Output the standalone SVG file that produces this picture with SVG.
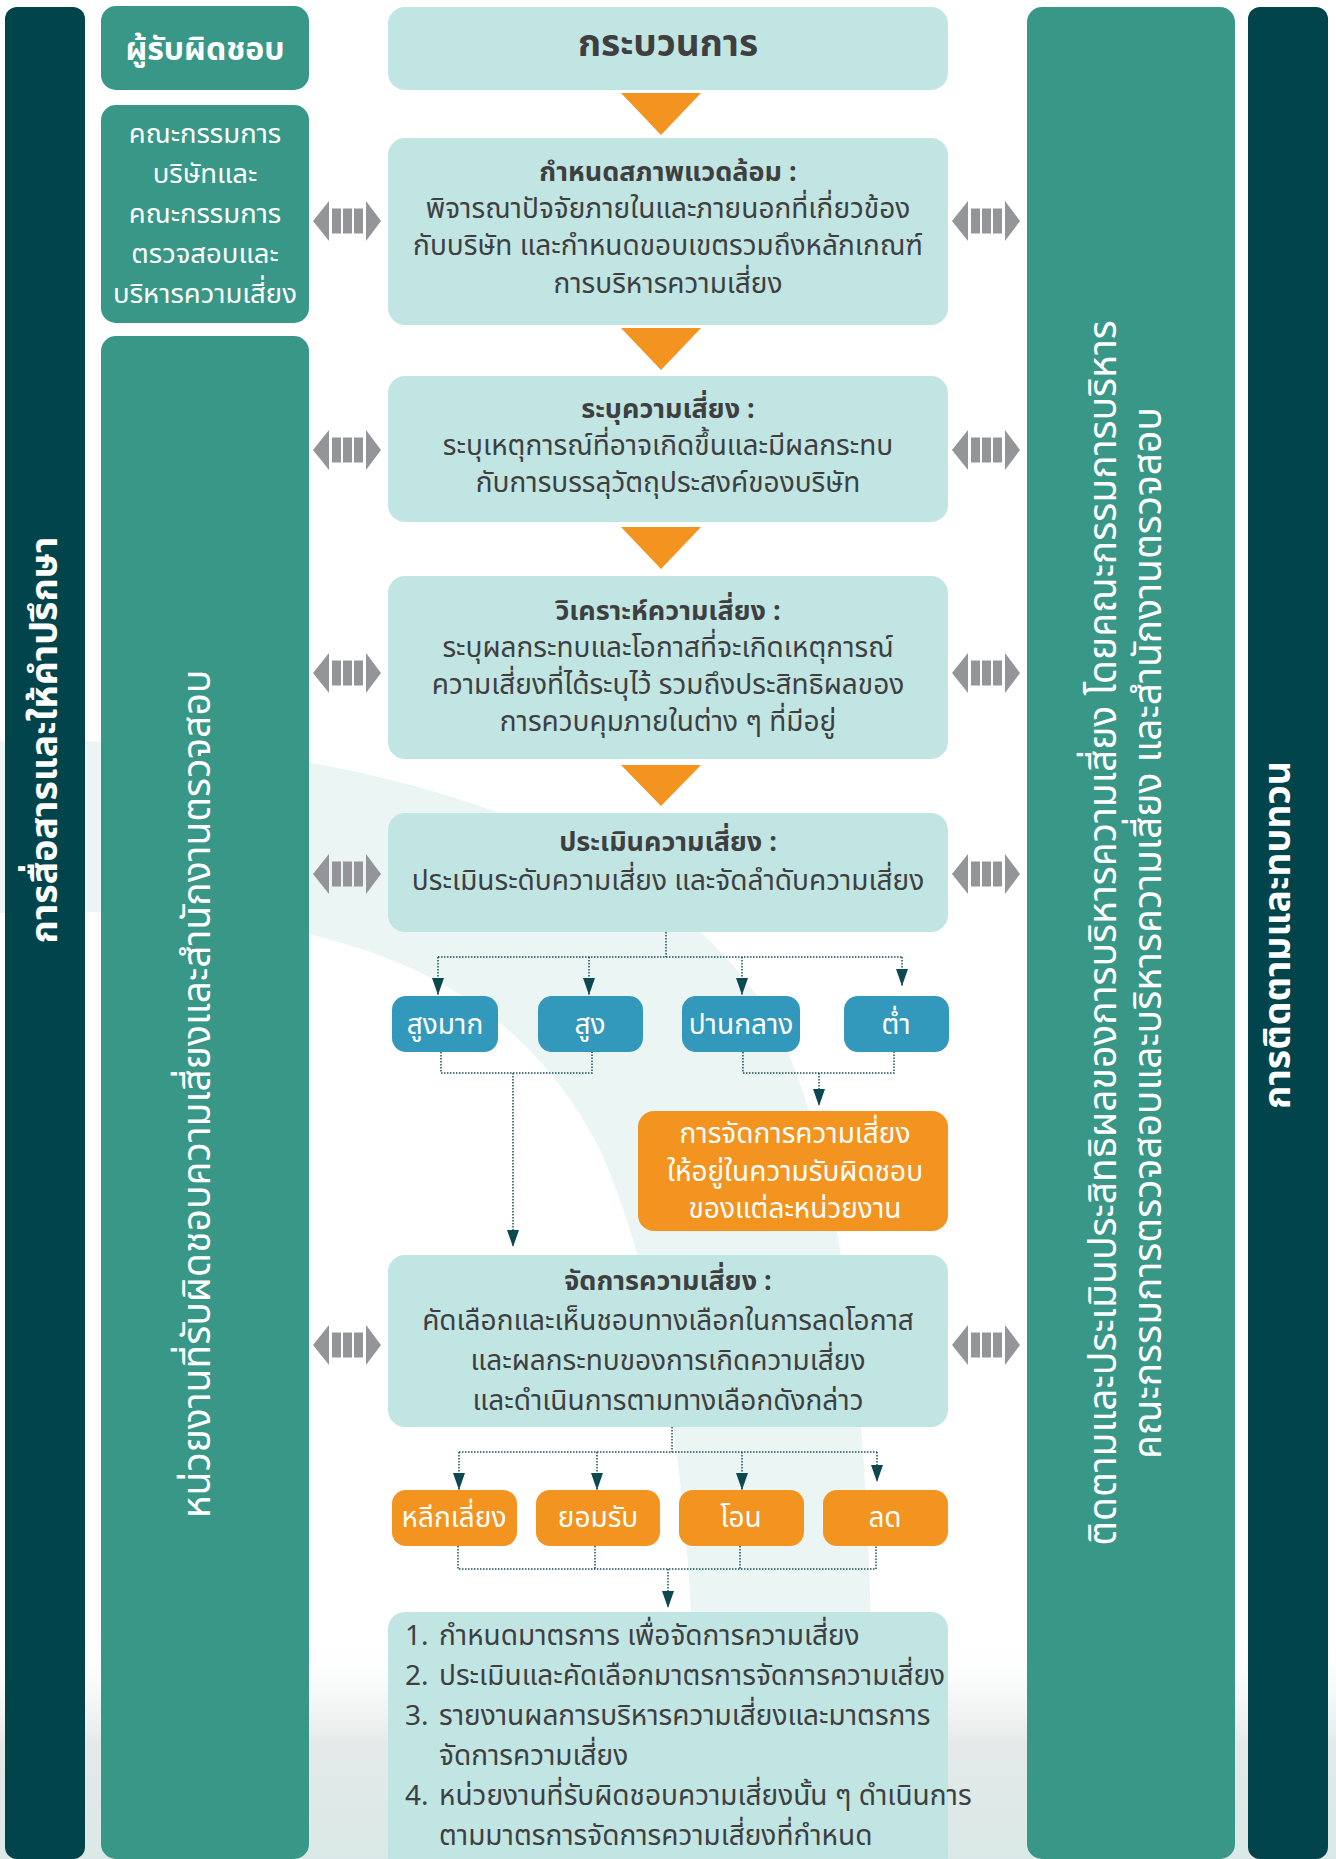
<svg xmlns="http://www.w3.org/2000/svg" width="1336" height="1859" viewBox="0 0 1336 1859">
<defs>
<style>
text{font-family:"Noto Sans Thai","Noto Sans Thai UI","Noto Sans","DejaVu Sans",sans-serif}
.dk{fill:#02444B}.gr{fill:#389787}.lt{fill:#C1E5E3}.or{fill:#F39320}.bl{fill:#3399BC}
.tw{fill:#fff}.td{fill:#3F3F40}
.b{font-weight:700}
.c{text-anchor:middle}
.f27{font-size:27px}.f28{font-size:28px}
.con{fill:none;stroke:#17505A;stroke-width:1.5;stroke-dasharray:1.5 1.5}
.tri{fill:#F39320}
.arw{fill:#939598}
</style>
<marker id="ah" viewBox="0 0 17 12" markerWidth="17" markerHeight="12" refX="17" refY="6" orient="auto" markerUnits="userSpaceOnUse"><path d="M0 0L17 6L0 12z" fill="#0B4850"/></marker>
<g id="sa"><path class="arw" d="M313 0L329 -20V20z"/><rect class="arw" x="332" y="-12.5" width="9" height="25"/><rect class="arw" x="343" y="-12.5" width="9" height="25"/><rect class="arw" x="354" y="-12.5" width="9" height="25"/><path class="arw" d="M366 -20L381 0L366 20z"/></g>
<linearGradient id="bg" x1="0" y1="0" x2="0" y2="1"><stop offset="0" stop-color="#fff" stop-opacity="0"/><stop offset="0.5" stop-color="#E4E9E8"/><stop offset="1" stop-color="#DAE9E7"/></linearGradient>
</defs>
<rect width="1336" height="1859" fill="#fff"/>
<path d="M0 741C300 735 620 800 760 1000C840 1120 870 1400 872 1700L694 1700C690 1450 650 1260 600 1150C490 930 250 905 0 913Z" fill="#EBF5F4"/>
<rect x="0" y="1630" width="1336" height="229" fill="url(#bg)"/>

<g id="col-comm"><rect class="dk" x="5" y="7" width="80" height="1852" rx="12"/><text class="tw b" font-size="37.5" text-anchor="middle" transform="translate(57 740) rotate(-90)">การสื่อสารและให้คำปรึกษา</text></g>
<g id="col-resp-head"><rect class="gr" x="101" y="6" width="208" height="84" rx="15"/><text class="tw b c" font-size="32" x="205" y="60">ผู้รับผิดชอบ</text></g>
<g id="col-board"><rect class="gr" x="101" y="105" width="208" height="218" rx="15"/>
<text class="tw c" font-size="27.5"><tspan x="205" y="143">คณะกรรมการ</tspan><tspan x="205" y="183">บริษัทและ</tspan><tspan x="205" y="223">คณะกรรมการ</tspan><tspan x="205" y="263">ตรวจสอบและ</tspan><tspan x="205" y="303">บริหารความเสี่ยง</tspan></text></g>
<g id="col-units"><rect class="gr" x="101" y="336" width="208" height="1523" rx="15"/><text class="tw" font-size="39" text-anchor="middle" transform="translate(210 1094) rotate(-90)">หน่วยงานที่รับผิดชอบความเสี่ยงและสำนักงานตรวจสอบ</text></g>
<g id="col-monitor"><rect class="gr" x="1027" y="7" width="208" height="1852" rx="15"/><text class="tw" font-size="39" text-anchor="middle" transform="translate(1116 933) rotate(-90)"><tspan x="0" y="0">ติดตามและประเมินประสิทธิผลของการบริหารความเสี่ยง โดยคณะกรรมการบริหาร</tspan><tspan x="0" y="45">คณะกรรมการตรวจสอบและบริหารความเสี่ยง และสำนักงานตรวจสอบ</tspan></text></g>
<g id="col-review"><rect class="dk" x="1248" y="7" width="80" height="1852" rx="12"/><text class="tw b" font-size="37.5" text-anchor="middle" transform="translate(1290 935) rotate(-90)">การติดตามและทบทวน</text></g>

<g id="process-head"><rect class="lt" x="388" y="7" width="560" height="83" rx="17"/><text class="td b c" font-size="37" x="668" y="56">กระบวนการ</text></g>
<g id="context"><rect class="lt" x="388" y="138" width="560" height="187" rx="17"/>
<text class="td c f28"><tspan class="b" font-size="27" x="668" y="181">กำหนดสภาพแวดล้อม :</tspan><tspan x="668" y="218">พิจารณาปัจจัยภายในและภายนอกที่เกี่ยวข้อง</tspan><tspan x="668" y="255">กับบริษัท และกำหนดขอบเขตรวมถึงหลักเกณฑ์</tspan><tspan x="668" y="293">การบริหารความเสี่ยง</tspan></text></g>
<g id="identify"><rect class="lt" x="388" y="376" width="560" height="146" rx="17"/>
<text class="td c f28"><tspan class="b" font-size="27" x="668" y="418">ระบุความเสี่ยง :</tspan><tspan x="668" y="455">ระบุเหตุการณ์ที่อาจเกิดขึ้นและมีผลกระทบ</tspan><tspan x="668" y="492">กับการบรรลุวัตถุประสงค์ของบริษัท</tspan></text></g>
<g id="analyze"><rect class="lt" x="388" y="576" width="560" height="183" rx="17"/>
<text class="td c f28"><tspan class="b" font-size="27" x="668" y="620">วิเคราะห์ความเสี่ยง :</tspan><tspan x="668" y="657">ระบุผลกระทบและโอกาสที่จะเกิดเหตุการณ์</tspan><tspan x="668" y="694">ความเสี่ยงที่ได้ระบุไว้ รวมถึงประสิทธิผลของ</tspan><tspan x="668" y="731">การควบคุมภายในต่าง ๆ ที่มีอยู่</tspan></text></g>
<g id="evaluate"><rect class="lt" x="388" y="813" width="560" height="119" rx="17"/>
<text class="td c f28"><tspan class="b" font-size="27" x="668" y="851">ประเมินความเสี่ยง :</tspan><tspan x="668" y="890">ประเมินระดับความเสี่ยง และจัดลำดับความเสี่ยง</tspan></text></g>
<g id="very-high"><rect class="bl" x="392" y="996" width="106" height="56" rx="14"/><text class="tw c f28" x="445" y="1034">สูงมาก</text></g>
<g id="high"><rect class="bl" x="538" y="996" width="105" height="56" rx="14"/><text class="tw c f28" x="590" y="1034">สูง</text></g>
<g id="medium"><rect class="bl" x="682" y="996" width="118" height="56" rx="14"/><text class="tw c f28" x="741" y="1034">ปานกลาง</text></g>
<g id="low"><rect class="bl" x="844" y="996" width="105" height="56" rx="14"/><text class="tw c f28" x="896" y="1034">ต่ำ</text></g>
<g id="unit-handle"><rect class="or" x="638" y="1111" width="310" height="120" rx="16"/>
<text class="tw c f28"><tspan x="795" y="1143">การจัดการความเสี่ยง</tspan><tspan x="795" y="1181">ให้อยู่ในความรับผิดชอบ</tspan><tspan x="795" y="1218">ของแต่ละหน่วยงาน</tspan></text></g>
<g id="treat"><rect class="lt" x="388" y="1255" width="560" height="172" rx="17"/>
<text class="td c f28"><tspan class="b" font-size="27" x="668" y="1290">จัดการความเสี่ยง :</tspan><tspan x="668" y="1330">คัดเลือกและเห็นชอบทางเลือกในการลดโอกาส</tspan><tspan x="668" y="1370">และผลกระทบของการเกิดความเสี่ยง</tspan><tspan x="668" y="1410">และดำเนินการตามทางเลือกดังกล่าว</tspan></text></g>
<g id="avoid"><rect class="or" x="392" y="1490" width="125" height="56" rx="14"/><text class="tw c f28" x="454" y="1527">หลีกเลี่ยง</text></g>
<g id="accept"><rect class="or" x="536" y="1490" width="124" height="56" rx="14"/><text class="tw c f28" x="598" y="1527">ยอมรับ</text></g>
<g id="transfer"><rect class="or" x="679" y="1490" width="125" height="56" rx="14"/><text class="tw c f28" x="741" y="1527">โอน</text></g>
<g id="reduce"><rect class="or" x="823" y="1490" width="125" height="56" rx="14"/><text class="tw c f28" x="885" y="1527">ลด</text></g>
<g id="measures"><rect class="lt" x="388" y="1612" width="560" height="262" rx="17"/>
<text class="td f28"><tspan x="405" y="1645">1.</tspan><tspan x="439" y="1645">กำหนดมาตรการ เพื่อจัดการความเสี่ยง</tspan><tspan x="405" y="1685">2.</tspan><tspan x="439" y="1685">ประเมินและคัดเลือกมาตรการจัดการความเสี่ยง</tspan><tspan x="405" y="1725">3.</tspan><tspan x="439" y="1725">รายงานผลการบริหารความเสี่ยงและมาตรการ</tspan><tspan x="439" y="1765">จัดการความเสี่ยง</tspan><tspan x="405" y="1805">4.</tspan><tspan x="439" y="1805">หน่วยงานที่รับผิดชอบความเสี่ยงนั้น ๆ ดำเนินการ</tspan><tspan x="439" y="1845">ตามมาตรการจัดการความเสี่ยงที่กำหนด</tspan></text></g>

<g id="connectors">
<path class="tri" d="M621 93H701L661 135z"/><path class="tri" d="M621 328H701L661 370z"/><path class="tri" d="M621 527H701L661 569z"/><path class="tri" d="M621 765H701L661 806z"/>
<use href="#sa" y="221"/><use href="#sa" y="450"/><use href="#sa" y="673"/><use href="#sa" y="874"/><use href="#sa" y="1345"/>
<use href="#sa" x="639" y="221"/><use href="#sa" x="639" y="450"/><use href="#sa" x="639" y="673"/><use href="#sa" x="639" y="874"/><use href="#sa" x="639" y="1345"/>
<path class="con" d="M666 932V957M438 957H902"/>
<path class="con" marker-end="url(#ah)" d="M438 957V995"/><path class="con" marker-end="url(#ah)" d="M589 957V995"/><path class="con" marker-end="url(#ah)" d="M742 957V995"/><path class="con" marker-end="url(#ah)" d="M902 957V986"/>
<path class="con" d="M441 1052V1073H592V1052M743 1052V1073H894V1052"/>
<path class="con" marker-end="url(#ah)" d="M513 1073V1247"/><path class="con" marker-end="url(#ah)" d="M819 1073V1106"/>
<path class="con" d="M672 1427V1452M459 1452H877"/>
<path class="con" marker-end="url(#ah)" d="M459 1452V1490"/><path class="con" marker-end="url(#ah)" d="M597 1452V1490"/><path class="con" marker-end="url(#ah)" d="M742 1452V1490"/><path class="con" marker-end="url(#ah)" d="M877 1452V1482"/>
<path class="con" d="M458 1546V1569H876V1546M595 1546V1569M740 1546V1569"/>
<path class="con" marker-end="url(#ah)" d="M668 1569V1608"/>
</g>
</svg>
